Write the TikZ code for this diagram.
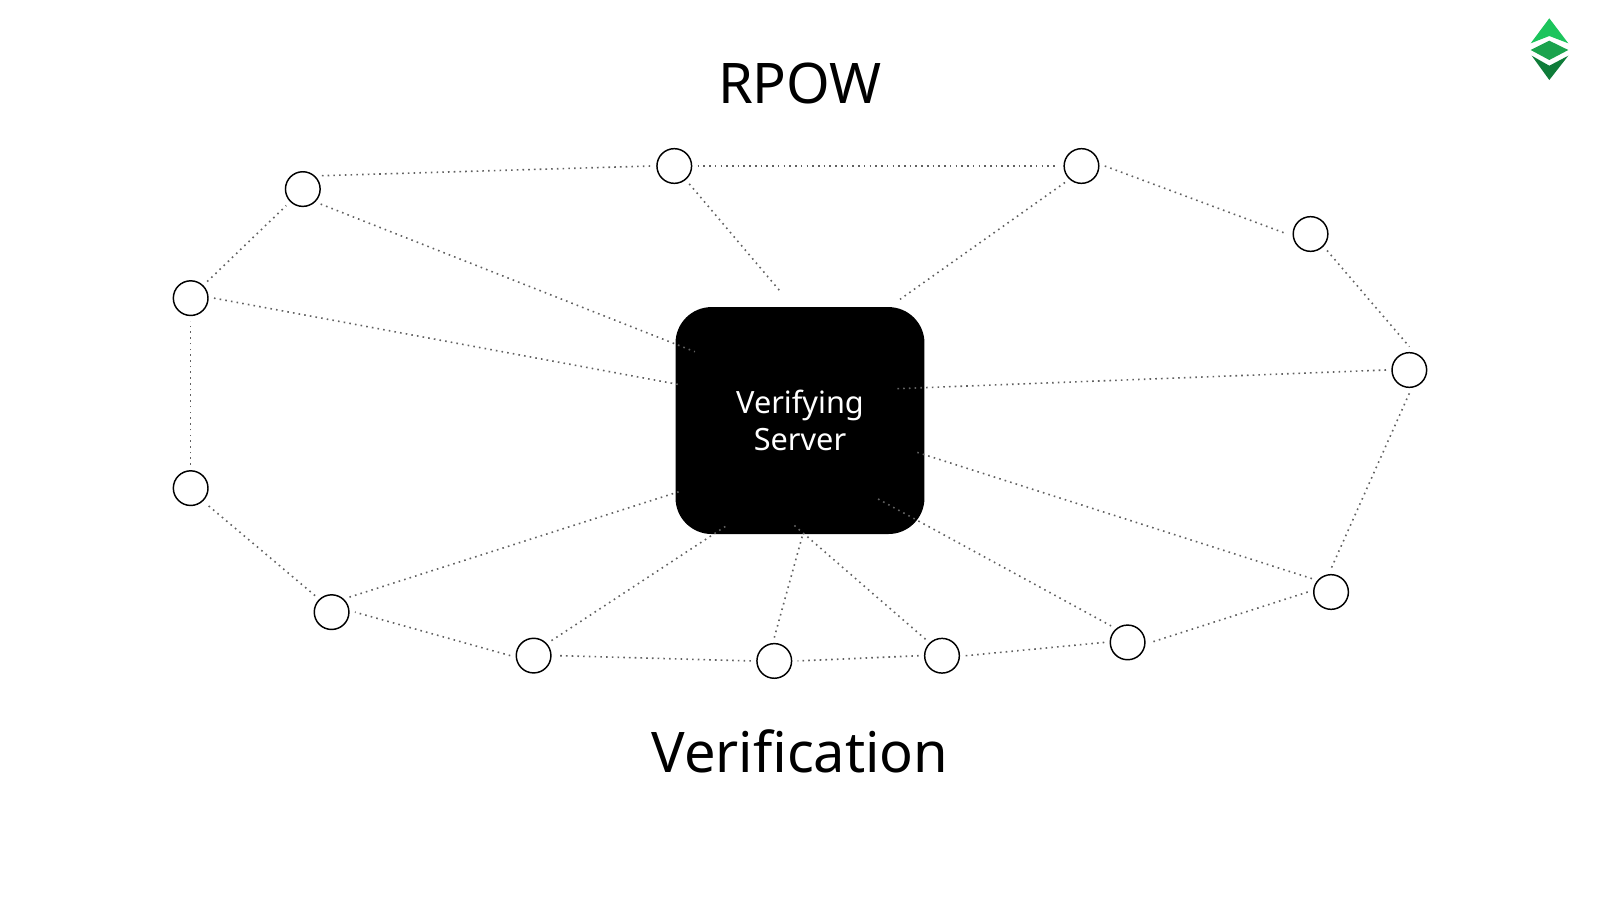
\documentclass[tikz,border=0pt]{standalone}
\usepackage{fontspec}
\setmainfont{Noto Sans}
\usetikzlibrary{positioning}
\definecolor{logotop}{HTML}{1CC45C}
\definecolor{logomid}{HTML}{1BA34D}
\definecolor{logolow}{HTML}{0F7C39}
\begin{document}
\begin{tikzpicture}[
					on grid,
					server/.style={rectangle, fill=black, text=white, rounded corners=27pt, minimum width=186.7pt, minimum height=170.2pt, align=center, inner sep=0pt, font=\fontsize{23}{28}\selectfont},
					peer/.style={circle, draw=black, line width=1.1pt, minimum size=26pt, inner sep=0pt, outer sep=4.5pt},
					title/.style={anchor=base, inner sep=0pt, font=\fontsize{42}{50}\selectfont},
					link/.style={draw=black!62, line width=1.2pt, dash pattern=on 1.2pt off 3.1pt}
				]
				\useasboundingbox (0,0) rectangle (1200pt,-672.75pt);
				\node[server] (verifier) at (600pt,-315.4pt) {Verifying\\Server};
				\node[title] (rpow) at (600pt,-77.3pt) {RPOW};
				\node[title] (verification) at (600pt,-579.5pt) {Verification};
				\node[peer] (ringb) [above left=190.9pt and 94.3pt of verifier] {};
				\node[peer] (ringc) [right=305.4pt of ringb] {};
				\node[peer] (ringd) [below right=51pt and 171.8pt of ringc] {};
				\node[peer] (ringe) [below right=102pt and 74.1pt of ringd] {};
				\node[peer] (ringf) [below left=166.5pt and 58.7pt of ringe] {};
				\node[peer] (ringg) [below left=37.8pt and 152.6pt of ringf] {};
				\node[peer] (ringh) [below left=10pt and 139.2pt of ringg] {};
				\node[peer] (ringi) [below left=3.9pt and 125.8pt of ringh] {};
				\node[peer] (ringj) [above left=4pt and 180.5pt of ringi] {};
				\node[peer] (ringk) [above left=32.6pt and 151.5pt of ringj] {};
				\node[peer] (ringl) [above left=93pt and 105.7pt of ringk] {};
				\node[peer] (ringm) [above=142.5pt of ringl] {};
				\node[peer] (ringa) [above right=81.8pt and 84.1pt of ringm] {};
				\coordinate (spokea) at ([xshift=-78.8pt, yshift=51.6pt] verifier.center);
				\coordinate (spokeb) at ([xshift=-14.5pt, yshift=96.5pt] verifier.center);
				\coordinate (spokec) at ([xshift=75pt, yshift=90.9pt] verifier.center);
				\coordinate (spokee) at ([xshift=73pt, yshift=23.9pt] verifier.center);
				\coordinate (spokef) at ([xshift=88pt, yshift=-23.9pt] verifier.center);
				\coordinate (spokeg) at ([xshift=57pt, yshift=-58pt] verifier.center);
				\coordinate (spokeh) at ([xshift=-5.5pt, yshift=-77.6pt] verifier.center);
				\coordinate (spokei) at ([xshift=2.3pt, yshift=-84.6pt] verifier.center);
				\coordinate (spokej) at ([xshift=-55.5pt, yshift=-79.1pt] verifier.center);
				\coordinate (spokek) at ([xshift=-88.7pt, yshift=-52.7pt] verifier.center);
				\coordinate (spokem) at ([xshift=-88.7pt, yshift=26.6pt] verifier.center);
				\begin{scope}[link]
				\draw (ringa.35) -- (ringb.west);
				\draw (ringb.east) -- (ringc.west);
				\draw (ringc.east) -- (ringd.west);
				\draw (ringd.-45) -- (ringe.north);
				\draw (ringe.south) -- (ringf.north);
				\draw (ringf.west) -- (ringg.east);
				\draw (ringg.west) -- (ringh.east);
				\draw (ringh.west) -- (ringi.east);
				\draw (ringi.west) -- (ringj.east);
				\draw (ringj.west) -- (ringk.east);
				\draw (ringk.135) -- (ringl.-45);
				\draw (ringl.north) -- (ringm.south);
				\draw (ringm.45) -- (ringa.225);
				\draw (ringa.-40) -- (spokea);
				\draw (ringb.-50) -- (spokeb);
				\draw (ringc.225) -- (spokec);
				\draw (ringe.west) -- (spokee);
				\draw (ringf.145) -- (spokef);
				\draw (ringg.135) -- (spokeg);
				\draw (ringh.135) -- (spokeh);
				\draw (ringi.north) -- (spokei);
				\draw (ringj.40) -- (spokej);
				\draw (ringk.40) -- (spokek);
				\draw (ringm.east) -- (spokem);
				\end{scope}
				% logo
				\begin{scope}[x=0.75pt, y=-0.75pt]
				\fill[logotop] (1549.3,18.3) -- (1568.3,43.3) -- (1549.3,36) -- (1530.7,43.3) -- cycle;
				\fill[logomid] (1549.3,40.7) -- (1568.3,50) -- (1549.3,60) -- (1530.7,50) -- cycle;
				\fill[logolow] (1531.7,55.7) -- (1549.3,65.7) -- (1568.3,55.7) -- (1549.3,80) -- cycle;
				\end{scope}
				\end{tikzpicture}
\end{document}
